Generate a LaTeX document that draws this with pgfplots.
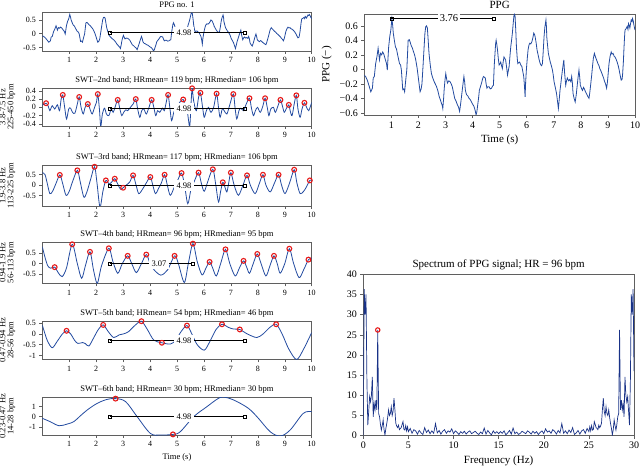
\documentclass[border=0pt]{standalone}
\usepackage{fontspec}
\setmainfont{Liberation Serif}
\usepackage{pgfplots}
\pgfplotsset{compat=1.18}
\usepackage{pgfplotstable}

\definecolor{sigblue}{RGB}{35,75,160}
\definecolor{specblue}{RGB}{25,50,135}
\definecolor{mred}{RGB}{230,25,25}
\definecolor{framec}{RGB}{95,95,95}

\pgfplotstableread{
t v
0.00 -0.08
0.05 -0.10
0.11 -0.15
0.17 -0.22
0.24 -0.31
0.30 -0.26
0.33 -0.12
0.37 -0.10
0.42 0.08
0.47 0.18
0.51 0.29
0.54 0.20
0.56 0.13
0.60 0.22
0.64 0.20
0.68 0.24
0.72 0.21
0.78 0.13
0.82 0.08
0.85 -0.01
0.90 0.31
0.94 0.45
0.98 0.54
1.02 0.70
1.05 0.60
1.07 0.50
1.11 0.40
1.15 0.31
1.19 0.28
1.22 0.22
1.26 0.15
1.30 0.08
1.34 0.06
1.37 -0.01
1.42 -0.28
1.46 -0.27
1.49 -0.31
1.53 -0.15
1.57 -0.01
1.62 0.40
1.66 0.41
1.69 0.38
1.73 0.33
1.78 0.29
1.81 0.25
1.84 0.22
1.87 0.18
1.90 0.13
1.95 0.02
1.99 -0.10
2.03 -0.22
2.06 -0.31
2.10 -0.27
2.13 -0.20
2.17 0.05
2.21 0.31
2.24 0.50
2.27 0.59
2.30 0.60
2.33 0.57
2.36 0.40
2.39 0.22
2.44 0.05
2.48 -0.06
2.53 -0.12
2.58 -0.17
2.62 -0.20
2.67 -0.24
2.72 -0.30
2.77 -0.38
2.81 -0.42
2.85 -0.47
2.88 -0.50
2.90 -0.54
2.93 -0.40
2.95 -0.28
2.98 -0.15
3.01 -0.06
3.04 -0.13
3.07 -0.19
3.12 -0.16
3.17 -0.17
3.21 -0.20
3.25 -0.24
3.30 -0.33
3.34 -0.40
3.39 -0.44
3.44 -0.49
3.48 -0.52
3.52 -0.58
3.55 -0.50
3.59 -0.38
3.63 -0.25
3.68 -0.10
3.71 -0.18
3.73 -0.28
3.76 -0.33
3.78 -0.35
3.83 -0.37
3.87 -0.40
3.92 -0.42
3.96 -0.45
4.00 -0.48
4.05 -0.51
4.09 -0.56
4.13 -0.63
4.16 -0.58
4.18 -0.52
4.22 -0.40
4.25 -0.29
4.29 -0.24
4.33 -0.19
4.37 -0.13
4.40 -0.10
4.44 -0.11
4.47 -0.12
4.50 -0.20
4.53 -0.26
4.57 -0.24
4.61 -0.24
4.65 -0.27
4.70 -0.26
4.74 -0.23
4.77 -0.22
4.80 0.05
4.82 0.17
4.85 0.35
4.87 0.40
4.90 0.33
4.92 0.27
4.95 0.15
4.98 0.06
5.02 0.08
5.04 0.10
5.07 0.05
5.10 0.01
5.13 0.10
5.16 0.17
5.19 0.15
5.22 0.13
5.26 0.02
5.29 -0.08
5.32 -0.02
5.35 0.04
5.38 0.18
5.41 0.31
5.44 0.40
5.47 0.50
5.50 0.63
5.53 0.75
5.55 0.76
5.57 0.73
5.60 0.50
5.62 0.31
5.65 0.15
5.67 0.08
5.70 0.09
5.74 0.10
5.78 0.06
5.82 0.04
5.86 -0.04
5.89 -0.10
5.92 -0.25
5.94 -0.38
5.96 -0.18
5.99 0.01
6.02 0.15
6.05 0.27
6.08 0.33
6.11 0.36
6.15 0.35
6.19 0.38
6.23 0.44
6.26 0.50
6.29 0.48
6.31 0.45
6.35 0.36
6.38 0.27
6.42 0.20
6.46 0.13
6.49 0.09
6.52 0.06
6.55 0.05
6.58 0.08
6.61 0.25
6.64 0.45
6.67 0.58
6.71 0.68
6.73 0.58
6.74 0.45
6.77 0.33
6.80 0.22
6.84 0.15
6.87 0.10
6.91 0.05
6.95 -0.01
6.98 -0.08
7.01 -0.17
7.05 -0.24
7.10 -0.33
7.14 -0.45
7.17 -0.54
7.20 -0.42
7.23 -0.29
7.26 -0.20
7.29 -0.10
7.33 0.02
7.37 0.13
7.40 -0.05
7.44 -0.22
7.47 -0.16
7.50 -0.12
7.55 -0.16
7.59 -0.14
7.63 -0.17
7.66 -0.10
7.69 -0.20
7.71 -0.33
7.75 -0.40
7.79 -0.45
7.83 -0.35
7.86 -0.24
7.90 -0.10
7.93 -0.01
7.96 -0.12
7.98 -0.22
8.02 -0.26
8.06 -0.29
8.10 -0.25
8.13 -0.27
8.17 -0.31
8.20 -0.33
8.25 -0.37
8.30 -0.40
8.33 -0.32
8.36 -0.22
8.40 -0.08
8.43 0.04
8.46 0.15
8.50 0.22
8.54 0.17
8.58 0.13
8.61 0.10
8.63 0.08
8.67 0.05
8.70 0.01
8.75 -0.03
8.80 -0.08
8.84 -0.12
8.87 -0.16
8.91 -0.20
8.95 -0.26
8.98 -0.18
9.00 -0.10
9.04 0.08
9.08 0.18
9.12 0.24
9.15 0.21
9.19 0.22
9.23 0.18
9.26 0.17
9.30 0.14
9.34 0.10
9.38 0.05
9.41 0.00
9.45 -0.08
9.49 -0.15
9.52 -0.14
9.54 -0.08
9.57 0.10
9.59 0.27
9.61 0.42
9.63 0.54
9.67 0.56
9.71 0.59
9.74 0.55
9.76 0.63
9.79 0.60
9.81 0.57
9.84 0.64
9.86 0.68
9.89 0.66
9.91 0.70
9.94 0.66
9.96 0.61
10.00 0.54
}\ppgdata

\pgfplotstableread{
t v
0.00 0.05
0.14 0.10
0.22 0.03
0.28 -0.08
0.37 0.04
0.46 -0.04
0.56 0.06
0.64 -0.08
0.70 0.20
0.76 0.30
0.83 0.00
0.90 -0.28
0.98 -0.04
1.05 -0.02
1.12 -0.12
1.21 -0.14
1.30 0.08
1.37 0.25
1.44 0.00
1.52 -0.16
1.59 0.00
1.69 0.08
1.77 -0.04
1.85 -0.16
1.94 0.00
2.01 0.12
2.06 0.32
2.12 -0.04
2.17 -0.46
2.23 -0.16
2.31 -0.02
2.38 -0.16
2.47 -0.20
2.56 -0.04
2.63 -0.12
2.70 0.00
2.80 0.18
2.88 -0.04
2.95 -0.20
3.02 -0.12
3.10 -0.06
3.17 -0.08
3.27 0.00
3.37 0.08
3.47 0.20
3.54 -0.04
3.62 -0.24
3.69 -0.08
3.77 -0.04
3.86 -0.16
3.96 0.00
4.06 0.18
4.14 0.00
4.21 -0.20
4.28 -0.08
4.36 -0.12
4.46 -0.02
4.53 -0.08
4.60 0.12
4.67 0.30
4.74 -0.04
4.80 -0.32
4.88 -0.12
4.94 -0.04
5.02 0.04
5.10 0.12
5.23 0.19
5.32 -0.04
5.38 -0.08
5.47 -0.46
5.52 0.08
5.56 0.46
5.60 0.24
5.64 0.08
5.72 -0.08
5.80 0.24
5.87 0.35
5.95 0.00
6.01 -0.24
6.09 -0.08
6.17 0.00
6.26 -0.12
6.36 0.00
6.47 0.33
6.54 0.00
6.60 -0.24
6.68 -0.04
6.75 -0.08
6.85 -0.16
6.95 0.04
7.09 0.32
7.16 -0.04
7.22 -0.28
7.30 -0.08
7.37 -0.02
7.47 -0.08
7.57 0.08
7.69 0.22
7.77 -0.04
7.84 -0.20
7.91 -0.08
7.99 0.00
8.09 -0.12
8.19 0.04
8.27 0.22
8.35 0.00
8.41 -0.20
8.48 -0.04
8.58 0.00
8.65 -0.12
8.75 0.04
8.84 0.18
8.91 0.04
8.98 -0.12
9.05 -0.04
9.15 0.06
9.20 -0.08
9.27 -0.20
9.35 0.08
9.43 0.29
9.49 -0.04
9.57 -0.24
9.64 -0.04
9.73 0.11
9.81 0.00
9.89 -0.08
9.96 0.04
10.00 0.12
}\bandtwo

\pgfplotstableread{
t v
0.00 0.59
0.10 0.50
0.18 0.10
0.28 -0.41
0.38 -0.30
0.50 0.05
0.65 0.48
0.75 0.10
0.88 -0.49
1.00 -0.30
1.12 0.15
1.30 0.70
1.40 0.20
1.54 -0.57
1.65 -0.35
1.80 0.30
1.94 0.87
2.03 0.10
2.14 -1.05
2.25 -0.30
2.36 0.22
2.48 0.05
2.58 0.15
2.69 0.30
2.80 0.05
2.90 -0.20
3.00 -0.13
3.12 0.00
3.25 0.15
3.37 0.46
3.48 0.00
3.58 -0.41
3.72 -0.20
3.86 0.10
4.01 0.38
4.10 0.00
4.20 -0.41
4.32 -0.15
4.42 0.10
4.54 0.49
4.64 0.00
4.75 -0.49
4.90 -0.10
5.05 0.30
5.17 0.57
5.28 0.00
5.40 -0.89
5.52 -0.20
5.65 0.20
5.80 0.59
5.90 0.10
6.01 -0.30
6.15 0.20
6.33 0.75
6.44 0.00
6.54 -0.81
6.62 -0.30
6.70 0.13
6.78 -0.10
6.85 -0.33
6.92 0.10
7.00 0.59
7.12 0.00
7.28 -0.49
7.45 0.00
7.60 0.46
7.72 0.00
7.90 -0.41
8.05 0.05
8.19 0.49
8.30 0.00
8.46 -0.33
8.62 0.10
8.77 0.49
8.88 0.00
9.01 -0.41
9.18 0.10
9.35 0.73
9.45 0.10
9.57 -0.41
9.70 -0.30
9.80 -0.10
9.93 0.22
10.00 0.25
}\bandthree

\pgfplotstableread{
t v
0.00 0.81
0.10 0.30
0.20 -0.10
0.31 -0.22
0.46 -0.17
0.60 -0.45
0.74 -0.62
0.90 -0.20
1.11 0.92
1.30 0.00
1.46 -0.70
1.60 -0.10
1.77 0.56
1.90 -0.30
2.04 -0.94
2.20 -0.10
2.47 0.73
2.62 0.10
2.80 -0.46
2.97 0.00
3.17 0.37
3.32 0.00
3.49 -0.43
3.68 0.00
3.86 0.43
4.00 0.00
4.15 -0.30
4.40 -0.55
4.65 -0.30
4.91 0.37
5.05 0.00
5.27 -0.90
5.42 0.00
5.59 0.95
5.75 0.10
5.93 -0.54
6.08 -0.20
6.21 0.08
6.32 -0.20
6.46 -0.59
6.62 0.00
6.80 0.68
6.96 0.00
7.16 -0.59
7.32 -0.20
7.47 0.13
7.58 -0.15
7.69 -0.46
7.83 0.00
7.98 0.46
8.12 0.00
8.30 -0.59
8.45 -0.10
8.60 0.37
8.72 0.00
8.83 -0.46
9.00 0.00
9.17 0.71
9.33 0.00
9.53 -0.67
9.70 -0.30
9.88 0.19
10.00 0.25
}\bandfour

\pgfplotstableread{
t v
0.00 0.40
0.10 0.00
0.20 -0.35
0.37 -0.64
0.55 -0.35
0.75 0.00
0.90 0.14
1.05 0.00
1.20 -0.30
1.32 -0.44
1.50 -0.40
1.60 -0.45
1.73 -0.56
1.90 -0.20
2.08 0.20
2.26 0.41
2.45 0.10
2.65 -0.17
2.85 -0.05
3.02 0.00
3.20 0.10
3.45 0.40
3.68 0.58
3.90 0.20
4.14 -0.29
4.44 -0.41
4.75 -0.47
4.95 -0.30
5.15 0.10
5.37 0.38
5.55 0.00
5.75 -0.50
6.01 -0.75
6.20 -0.40
6.45 0.20
6.67 0.44
6.90 0.30
7.10 0.22
7.33 0.20
7.60 0.00
7.96 -0.17
8.20 0.00
8.45 0.30
8.68 0.44
8.90 0.00
9.15 -0.70
9.44 -1.18
9.70 -0.70
10.00 0.06
}\bandfive

\pgfplotstableread{
t v
0.00 -0.16
0.30 -0.50
0.62 -0.89
0.93 -0.72
1.17 -0.49
1.40 0.05
1.67 0.66
2.04 1.31
2.41 1.70
2.72 1.77
3.09 1.48
3.52 0.00
4.01 -1.64
4.38 -1.80
4.85 -1.74
5.12 -1.48
5.62 0.00
6.11 0.98
6.48 1.70
6.70 1.93
7.10 1.64
7.65 0.82
8.02 -0.16
8.46 -1.48
8.83 -1.90
9.20 -1.31
9.69 0.33
10.00 0.49
}\bandsix

\pgfplotstableread{
f a
0.0 0
0.1 36.3
0.2 30
0.3 35
0.4 13.8
0.5 2.6
0.6 6
0.7 9.7
0.8 8.4
0.9 10
1.0 14.6
1.1 4.7
1.2 8
1.3 6.4
1.4 8.8
1.5 6.4
1.6 26.2
1.7 5.5
1.8 4.7
1.9 2.8
2.0 1.4
2.1 2.5
2.2 3.9
2.3 1.5
2.4 0.2
2.5 1.8
2.6 3.0
2.7 4.5
2.8 6.4
2.9 5.0
3.0 5.5
3.1 7.2
3.2 5.0
3.3 6.0
3.4 9.3
3.5 6.5
3.6 3.1
3.7 2.4
3.8 2.0
3.9 2.6
4.0 1.5
4.1 1.8
4.2 2.0
4.3 2.8
4.4 3.5
4.5 1.6
4.6 1.4
4.7 2.5
4.8 1.2
4.9 2.2
5.0 1.0
5.2 1.8
5.4 0.6
5.6 1.5
5.8 1.2
6.0 0.4
6.2 1.3
6.4 0.7
6.6 0.3
6.8 2.0
7.0 0.8
7.2 1.4
7.4 0.5
7.6 1.2
7.8 0.6
8.0 3.0
8.2 0.7
8.4 1.3
8.6 0.4
8.8 1.1
9.0 1.5
9.2 0.6
9.4 1.2
9.6 0.9
9.8 1.7
10.0 0.5
10.2 1.2
10.4 0.8
10.6 0.3
10.8 1.0
11.0 0.6
11.2 1.1
11.4 0.4
11.6 0.9
11.8 1.2
12.0 0.5
12.2 0.8
12.4 1.1
12.6 0.6
12.8 0.3
13.0 0.9
13.2 0.5
13.4 1.9
13.6 0.4
13.8 1.3
14.0 0.7
14.2 0.2
14.4 1.2
14.6 0.6
14.8 1.0
15.0 0.5
15.2 1.0
15.4 0.6
15.6 1.2
15.8 0.2
16.0 0.7
16.2 1.3
16.4 0.4
16.6 1.9
16.8 0.5
17.0 0.9
17.2 0.3
17.4 0.6
17.6 1.1
17.8 0.8
18.0 0.5
18.2 1.2
18.4 0.9
18.6 0.4
18.8 1.1
19.0 0.6
19.2 1.0
19.4 0.3
19.6 0.8
19.8 1.2
20.0 0.5
20.2 1.7
20.4 0.9
20.6 1.2
20.8 0.6
21.0 1.5
21.2 1.1
21.4 0.4
21.6 1.3
21.8 0.7
22.0 3.0
22.2 0.6
22.4 1.2
22.6 0.5
22.8 1.4
23.0 0.8
23.2 2.0
23.4 0.3
23.6 0.7
23.8 1.3
24.0 0.4
24.2 1.2
24.4 1.5
24.6 0.6
24.8 1.8
25.0 1.0
25.1 2.2
25.2 1.2
25.3 2.5
25.4 1.4
25.5 1.6
25.6 3.5
25.7 2.8
25.8 2.0
25.9 1.8
26.0 1.5
26.1 2.6
26.2 2.0
26.3 2.4
26.4 3.1
26.5 6.5
26.6 9.3
26.7 6.0
26.8 5.0
26.9 7.2
27.0 5.5
27.1 5.0
27.2 6.4
27.3 4.5
27.4 3.0
27.5 1.8
27.6 0.2
27.7 1.5
27.8 3.9
27.9 2.5
28.0 1.4
28.1 2.8
28.2 4.7
28.3 5.5
28.4 26.2
28.5 6.4
28.6 8.8
28.7 6.4
28.8 8
28.9 4.7
29.0 14.6
29.1 10
29.2 8.4
29.3 9.7
29.4 6
29.5 2.6
29.6 13.8
29.7 35
29.8 30
29.9 36.3
30.0 16
}\spec

\tikzset{lab/.style={fill=white, inner xsep=3pt, inner ysep=2.5pt, font=\fontsize{8.5}{10}\selectfont}}

\pgfplotsset{
  base/.style={
    scale only axis,
    axis line style={framec, line width=0.6pt},
    tick style={framec, line width=0.5pt},
    tick align=outside, tick pos=left,
    major tick length=3pt,
    /pgf/number format/assume math mode=true,
    clip=true,
  },
  lp/.style={
    base,
    width=269.4pt,
    xmin=0, xmax=10, xtick={1,...,10},
    ticklabel style={font=\fontsize{8}{9}\selectfont},
    title style={font=\fontsize{8.5}{10}\selectfont, anchor=base, yshift=-0.5pt, inner sep=0pt},
    ylabel style={font=\fontsize{8.5}{8}\selectfont, align=center, at={(axis description cs:-0.1,0.5)}, anchor=south, inner sep=0pt},
    xlabel style={font=\fontsize{8.5}{10}\selectfont},
  },
  sig/.style={sigblue, line width=0.8pt},
  ann/.style={black, line width=0.7pt, mark=square, mark size=1.5pt, mark options={solid, line width=0.6pt, fill=white}},
  pk/.style={mred, only marks, mark=o, mark size=2.4pt, mark options={line width=1.1pt}},
}

\begin{document}
\begin{tikzpicture}
\path[use as bounding box] (0,0) rectangle (640pt,469pt);

% Panel 1
\begin{axis}[lp, at={(42.3pt,418pt)}, anchor=south west, height=38.3pt,
  ymin=-0.63, ymax=0.765, ytick={-0.5,0,0.5}, title={PPG no. 1}]
\addplot[sig] table[x=t,y=v] {\ppgdata};
\addplot[ann] coordinates {(2.5,0.05) (7.5,0.05)};
\node[lab] at (axis cs:5.26,0.05) {4.98};
\end{axis}

% Panel 2
\begin{axis}[lp, at={(42.3pt,343pt)}, anchor=south west, height=37.7pt,
  ymin=-0.45, ymax=0.46, ytick={-0.4,-0.2,0,0.2,0.4},
  title={SWT–2nd band; HRmean= 119 bpm; HRmedian= 106 bpm},
  ylabel={3.8-7.5 Hz\\225-450 bpm}]
\addplot[sig, smooth, tension=0.5] table[x=t,y=v] {\bandtwo};
\addplot[ann] coordinates {(2.5,-0.024) (7.5,-0.024)};
\node[lab] at (axis cs:5.26,-0.024) {4.98};
\addplot[pk] coordinates {(0.14,0.10) (0.76,0.30) (1.37,0.25) (1.69,0.08) (2.06,0.32) (2.80,0.18) (3.47,0.20) (4.06,0.18) (4.67,0.30) (5.23,0.19) (5.56,0.46) (5.87,0.35) (6.47,0.33) (7.09,0.32) (7.69,0.22) (8.27,0.22) (8.84,0.18) (9.15,0.06) (9.43,0.29) (9.73,0.11)};
\end{axis}

% Panel 3
\begin{axis}[lp, at={(42.3pt,263pt)}, anchor=south west, height=40.7pt,
  ymin=-1.0, ymax=0.94, ytick={-0.5,0,0.5},
  title={SWT–3rd band; HRmean= 117 bpm; HRmedian= 106 bpm},
  ylabel={1.9-3.8 Hz\\113-225 bpm}]
\addplot[sig, smooth, tension=0.5] table[x=t,y=v] {\bandthree};
\addplot[ann] coordinates {(2.5,-0.03) (7.5,-0.03)};
\node[lab] at (axis cs:5.26,-0.03) {4.98};
\addplot[pk] coordinates {(0.65,0.48) (1.30,0.70) (1.94,0.87) (2.36,0.22) (2.69,0.30) (3.00,-0.13) (3.37,0.46) (4.01,0.38) (4.54,0.49) (5.17,0.57) (5.80,0.59) (6.33,0.75) (6.70,0.13) (7.00,0.59) (7.60,0.46) (8.19,0.49) (8.77,0.49) (9.35,0.73) (9.93,0.22)};
\end{axis}

% Panel 4
\begin{axis}[lp, at={(42.3pt,185.7pt)}, anchor=south west, height=41.3pt,
  ymin=-0.94, ymax=1.03, ytick={-0.5,0,0.5},
  title={SWT–4th band; HRmean= 96 bpm; HRmedian= 95 bpm},
  ylabel={0.94-1.9 Hz\\56-113 bpm}]
\addplot[sig, smooth, tension=0.5] table[x=t,y=v] {\bandfour};
\addplot[ann] coordinates {(2.5,0) (5.57,0)};
\node[lab] at (axis cs:4.33,0) {3.07};
\addplot[pk] coordinates {(0.46,-0.17) (1.11,0.92) (1.77,0.56) (2.47,0.73) (3.17,0.37) (3.86,0.43) (4.91,0.37) (5.59,0.95) (6.21,0.08) (6.80,0.68) (7.47,0.13) (7.98,0.46) (8.60,0.37) (9.17,0.71) (9.88,0.19)};
\end{axis}

% Panel 5
\begin{axis}[lp, at={(42.3pt,109.7pt)}, anchor=south west, height=38.3pt,
  ymin=-1.17, ymax=0.59, ytick={-1,-0.5,0,0.5},
  title={SWT–5th band; HRmean= 54 bpm; HRmedian= 46 bpm},
  ylabel={0.47-0.94 Hz\\28-56 bpm}]
\addplot[sig, smooth, tension=0.5] table[x=t,y=v] {\bandfive};
\addplot[ann] coordinates {(2.5,-0.32) (7.5,-0.32)};
\node[lab] at (axis cs:5.26,-0.32) {4.98};
\addplot[pk] coordinates {(0.90,0.14) (2.26,0.41) (3.68,0.58) (4.44,-0.41) (5.37,0.38) (6.67,0.44) (7.33,0.20) (8.68,0.44)};
\end{axis}

% Panel 6
\begin{axis}[lp, at={(42.3pt,34pt)}, anchor=south west, height=37.7pt,
  ymin=-1.8, ymax=1.9, ytick={-1,0,1},
  title={SWT–6th band; HRmean= 30 bpm; HRmedian= 30 bpm},
  ylabel={0.23-0.47 Hz\\14-28 bpm}, xlabel={Time (s)}]
\addplot[sig, smooth, tension=0.55] table[x=t,y=v] {\bandsix};
\addplot[ann] coordinates {(2.5,0) (7.5,0)};
\node[lab] at (axis cs:5.26,0) {4.98};
\addplot[pk] coordinates {(2.72,1.77) (4.85,-1.74) (6.70,1.93)};
\end{axis}

% Right PPG
\begin{axis}[base, at={(364.3pt,354pt)}, anchor=south west, width=270.7pt, height=101pt,
  xmin=0, xmax=10, xtick={1,...,10},
  ymin=-0.63, ymax=0.763, ytick={-0.6,-0.4,-0.2,0,0.2,0.4,0.6},
  yticklabels={−0.6,−0.4,−0.2,0,0.2,0.4,0.6},
  ticklabel style={font=\fontsize{10}{11}\selectfont},
  title style={font=\fontsize{11}{12}\selectfont, anchor=base, yshift=-0.3pt, inner sep=0pt},
  title={PPG},
  xlabel={Time (s)}, ylabel={PPG (−)},
  xlabel style={font=\fontsize{11}{12}\selectfont},
  ylabel style={font=\fontsize{11}{12}\selectfont, at={(axis description cs:-0.12,0.5)}, anchor=south, inner sep=0pt}]
\addplot[sig] table[x=t,y=v] {\ppgdata};
\addplot[ann] coordinates {(1.0,0.70) (4.77,0.70)};
\node[fill=white, inner xsep=2pt, inner ysep=1pt, font=\fontsize{10.5}{11}\selectfont] at (axis cs:3.13,0.70) {3.76};
\end{axis}

% Spectrum
\begin{axis}[base, at={(363.3pt,33.3pt)}, anchor=south west, width=270.7pt, height=161.4pt,
  xmin=0, xmax=30, xtick={0,5,...,30},
  ymin=0, ymax=40, ytick={0,5,...,40},
  ticklabel style={font=\fontsize{10}{11}\selectfont},
  title style={font=\fontsize{11}{12}\selectfont, anchor=base, yshift=0.7pt, inner sep=0pt},
  title={Spectrum of PPG signal; HR = 96 bpm},
  xlabel={Frequency (Hz)},
  xlabel style={font=\fontsize{11}{12}\selectfont}]
\addplot[specblue, line width=0.7pt] table[x=f,y=a] {\spec};
\addplot[pk, mark size=2.2pt] coordinates {(1.6,26.2)};
\end{axis}
\end{tikzpicture}
\end{document}
